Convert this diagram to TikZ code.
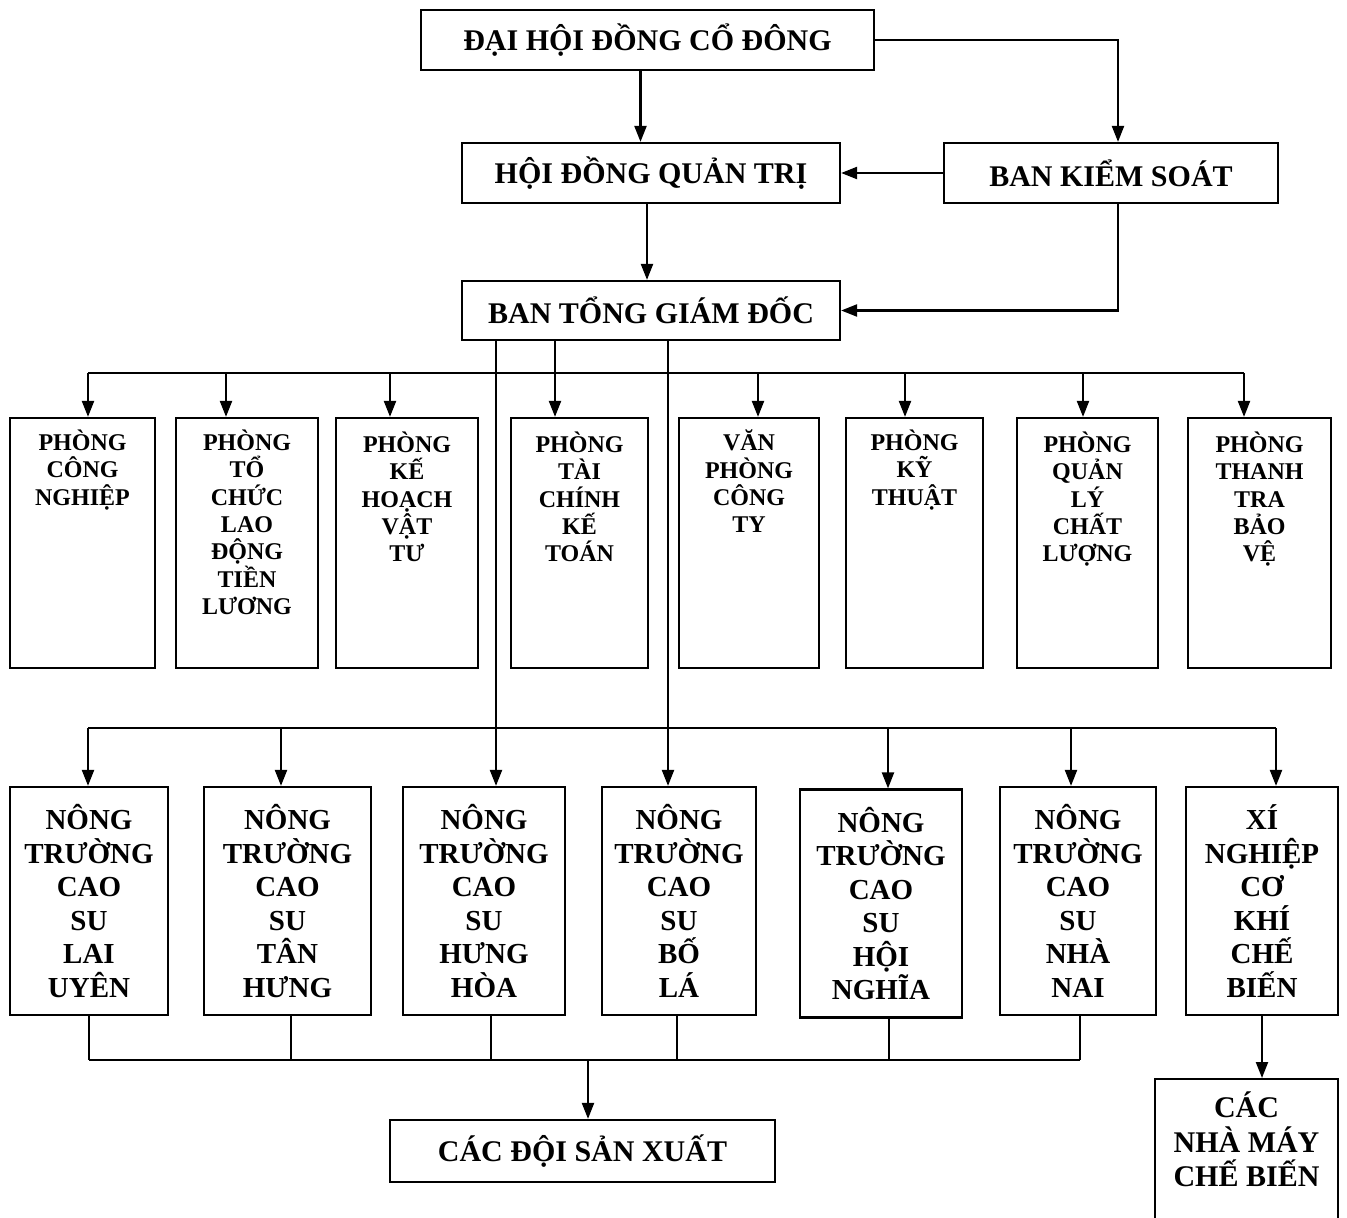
\documentclass[tikz,border=0pt]{standalone}
\usepackage{fontspec}
\setmainfont{Liberation Serif}
\usetikzlibrary{arrows.meta}
\tikzset{
  link/.style={line width=2.2pt},
  arr/.style={link,-{Triangle[length=16pt,width=12pt]}},
  head/.style={draw,line width=2.2pt,inner sep=0pt,minimum height=60pt,
    font=\fontsize{30}{34}\selectfont\bfseries,align=center},
  room/.style={draw,line width=2.2pt,inner sep=0pt,minimum height=250pt},
  roomtext/.style={anchor=north,inner sep=0pt,align=center,
    font=\fontsize{24}{27.3}\selectfont\bfseries},
  farm/.style={draw,line width=2.2pt,inner sep=0pt,minimum height=228pt,
    font=\fontsize{29}{33.5}\selectfont\bfseries,align=center},
}
\begin{document}
\begin{tikzpicture}[x=1pt,y=-1pt]
\useasboundingbox (0,0) rectangle (1347,1218);
% top of the chart
\node[head,minimum width=453pt] (dhdcd) at (647.5,40) {ĐẠI HỘI ĐỒNG CỔ ĐÔNG};
\node[head,minimum width=378pt] (hdqt) at (651,173) {HỘI ĐỒNG QUẢN TRỊ};
\node[head,minimum width=334pt] (bks) at (1111,173) {BAN KIỂM SOÁT};
\node[head,minimum width=378pt,minimum height=59pt] (btgd) at (651,310.5) {BAN TỔNG GIÁM ĐỐC};
\draw[arr] ([xshift=-7pt]dhdcd.south) -- ([xshift=-7pt]dhdcd.south |- hdqt.north);
\draw[arr] (dhdcd.east) -| ([xshift=7pt]bks.north);
\draw[arr] (bks.west) -- (hdqt.east);
\draw[arr] ([xshift=-4pt]hdqt.south) -- ([xshift=-4pt]btgd.north);
\draw[arr] ([xshift=7pt]bks.south) |- (btgd.east);
% phong ban
\coordinate (busA) at (0,373);
\node[room,minimum width=145pt] (p1) at (82.5,543) {};
\node[room,minimum width=142pt] (p2) at (247,543) {};
\node[room,minimum width=142pt] (p3) at (407,543) {};
\node[room,minimum width=137pt] (p4) at (579.5,543) {};
\node[room,minimum width=140pt] (p5) at (749,543) {};
\node[room,minimum width=137pt] (p6) at (914.5,543) {};
\node[room,minimum width=141pt] (p7) at (1087.5,543) {};
\node[room,minimum width=143pt] (p8) at (1259.5,543) {};
\node[roomtext] (p1t) at ([yshift=-13pt]p1.north) {PHÒNG\\CÔNG\\NGHIỆP};
\node[roomtext] (p2t) at ([yshift=-13pt]p2.north) {PHÒNG\\TỔ\\CHỨC\\LAO\\ĐỘNG\\TIỀN\\LƯƠNG};
\node[roomtext] (p3t) at ([yshift=-15pt]p3.north) {PHÒNG\\KẾ\\HOẠCH\\VẬT\\TƯ};
\node[roomtext] (p4t) at ([yshift=-15pt]p4.north) {PHÒNG\\TÀI\\CHÍNH\\KẾ\\TOÁN};
\node[roomtext] (p5t) at ([yshift=-13pt]p5.north) {VĂN\\PHÒNG\\CÔNG\\TY};
\node[roomtext] (p6t) at ([yshift=-13pt]p6.north) {PHÒNG\\KỸ\\THUẬT};
\node[roomtext] (p7t) at ([yshift=-15pt]p7.north) {PHÒNG\\QUẢN\\LÝ\\CHẤT\\LƯỢNG};
\node[roomtext] (p8t) at ([yshift=-15pt]p8.north) {PHÒNG\\THANH\\TRA\\BẢO\\VỆ};
\draw[link] ([xshift=5.5pt]p1.north |- busA) -- ([xshift=-15.5pt]p8.north |- busA);
\draw[arr] ([xshift=5.5pt]p1.north |- busA) -- ([xshift=5.5pt]p1.north);
\draw[arr] ([xshift=-21pt]p2.north |- busA) -- ([xshift=-21pt]p2.north);
\draw[arr] ([xshift=-17pt]p3.north |- busA) -- ([xshift=-17pt]p3.north);
\draw[arr] ([xshift=-96pt]btgd.south) -- ([xshift=-96pt]btgd.south |- p4.north);
\draw[arr] ([xshift=9pt]p5.north |- busA) -- ([xshift=9pt]p5.north);
\draw[arr] ([xshift=-9.5pt]p6.north |- busA) -- ([xshift=-9.5pt]p6.north);
\draw[arr] ([xshift=-4.5pt]p7.north |- busA) -- ([xshift=-4.5pt]p7.north);
\draw[arr] ([xshift=-15.5pt]p8.north |- busA) -- ([xshift=-15.5pt]p8.north);
% nong truong
\coordinate (busB) at (0,728);
\node[farm,minimum width=158pt] (nt1) at (89,901) {NÔNG\\TRƯỜNG\\CAO\\SU\\LAI\\UYÊN};
\node[farm,minimum width=167pt] (nt2) at (287.5,901) {NÔNG\\TRƯỜNG\\CAO\\SU\\TÂN\\HƯNG};
\node[farm,minimum width=162pt] (nt3) at (484,901) {NÔNG\\TRƯỜNG\\CAO\\SU\\HƯNG\\HÒA};
\node[farm,minimum width=154pt] (nt4) at (679,901) {NÔNG\\TRƯỜNG\\CAO\\SU\\BỐ\\LÁ};
\node[farm,minimum width=162pt] (nt5) at (881,903.5) {NÔNG\\TRƯỜNG\\CAO\\SU\\HỘI\\NGHĨA};
\node[farm,minimum width=156pt] (nt6) at (1078,901) {NÔNG\\TRƯỜNG\\CAO\\SU\\NHÀ\\NAI};
\node[farm,minimum width=152pt] (nt7) at (1262,901) {XÍ\\NGHIỆP\\CƠ\\KHÍ\\CHẾ\\BIẾN};
\draw[link] ([xshift=-1pt]nt1.north |- busB) -- ([xshift=14pt]nt7.north |- busB);
\draw[arr] ([xshift=-1pt]nt1.north |- busB) -- ([xshift=-1pt]nt1.north);
\draw[arr] ([xshift=-6.5pt]nt2.north |- busB) -- ([xshift=-6.5pt]nt2.north);
\draw[arr] ([xshift=-155pt]btgd.south) -- ([xshift=-155pt]btgd.south |- nt3.north);
\draw[arr] ([xshift=17pt]btgd.south) -- ([xshift=17pt]btgd.south |- nt4.north);
\draw[arr] ([xshift=7pt]nt5.north |- busB) -- ([xshift=7pt]nt5.north);
\draw[arr] ([xshift=-7pt]nt6.north |- busB) -- ([xshift=-7pt]nt6.north);
\draw[arr] ([xshift=14pt]nt7.north |- busB) -- ([xshift=14pt]nt7.north);
% bottom row
\coordinate (busC) at (0,1060);
\node[head,minimum width=385pt,minimum height=62pt] (cdsx) at (582.5,1151) {CÁC ĐỘI SẢN XUẤT};
\node[draw,line width=2.2pt,inner sep=0pt,minimum width=183pt,minimum height=170pt,anchor=north] (nhamay) at (1246.5,1078) {};
\node[roomtext,font=\fontsize{30}{34.5}\selectfont\bfseries] (nhamayt) at ([yshift=-14pt]nhamay.north) {CÁC\\NHÀ MÁY\\CHẾ BIẾN};
\draw[link] (nt1.south) -- (nt1.south |- busC);
\draw[link] ([xshift=3.5pt]nt2.south) -- ([xshift=3.5pt]nt2.south |- busC);
\draw[link] ([xshift=7pt]nt3.south) -- ([xshift=7pt]nt3.south |- busC);
\draw[link] ([xshift=-2pt]nt4.south) -- ([xshift=-2pt]nt4.south |- busC);
\draw[link] ([xshift=8pt]nt5.south) -- ([xshift=8pt]nt5.south |- busC);
\draw[link] ([xshift=2pt]nt6.south) -- ([xshift=2pt]nt6.south |- busC);
\draw[link] (nt1.south |- busC) -- ([xshift=2pt]nt6.south |- busC);
\draw[arr] ([xshift=5.5pt]cdsx.north |- busC) -- ([xshift=5.5pt]cdsx.north);
\draw[arr] (nt7.south) -- (nt7.south |- nhamay.north);
\end{tikzpicture}
\end{document}
